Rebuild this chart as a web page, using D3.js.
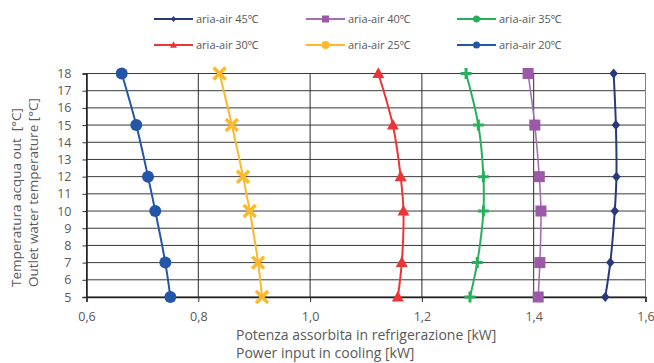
<!DOCTYPE html>
<html>
<head>
<meta charset="utf-8">
<script src="https://cdn.jsdelivr.net/npm/d3@7"></script>
<style>
  body { margin: 0; background: #fff; }
  text { font-family: "Open Sans", "Noto Sans", sans-serif; fill: #595959; }
</style>
</head>
<body>
<div class="chart"></div>
<script>
// outlet water temperature (y) and power input per air temperature (x)
const temps = [18, 15, 12, 10, 7, 5]
const seriesNames = ["aria-air 45℃", "aria-air 40℃", "aria-air 35℃", "aria-air 30℃", "aria-air 25℃", "aria-air 20℃"]
const air45 = [1.543, 1.547, 1.548, 1.545, 1.537, 1.528]
const air40 = [1.390, 1.402, 1.410, 1.413, 1.411, 1.408]
const air35 = [1.279, 1.301, 1.310, 1.310, 1.299, 1.286]
const air30 = [1.122, 1.148, 1.162, 1.167, 1.164, 1.157]
const air25 = [0.838, 0.860, 0.880, 0.892, 0.907, 0.914]
const air20 = [0.663, 0.689, 0.710, 0.723, 0.741, 0.750]
const xTicks = [0.6, 0.8, 1.0, 1.2, 1.4, 1.6]
const yTicks = [5, 6, 7, 8, 9, 10, 11, 12, 13, 14, 15, 16, 17, 18]

const styles = [
  {color: "#263a7c", line: "#263a7c", marker: "diamond"},
  {color: "#9b59a7", line: "#a66fb2", marker: "square"},
  {color: "#27b05c", line: "#27b05c", marker: "plus", legendMarker: "circle"},
  {color: "#ee3535", line: "#ee3535", marker: "triangle"},
  {color: "#fdb92c", line: "#fdb92c", marker: "x", legendMarker: "blob"},
  {color: "#2356a6", line: "#2356a6", marker: "circle"}
]
const allValues = [air45, air40, air35, air30, air25, air20]

let outerWidth = 654
let outerHeight = 363
let margin = {top: 73.5, bottom: 66, left: 86.5, right: 8.5}
let w = outerWidth - margin.left - margin.right
let h = outerHeight - margin.top - margin.bottom

const root = d3.select(".chart")
    .append("svg")
    .attr("width", outerWidth)
    .attr("height", outerHeight)

const svg = root.append("g")
    .attr("transform", `translate(${margin.left}, ${margin.top})`)

const xScale = d3.scaleLinear().domain([0.6, 1.6]).range([0, w])
const yScale = d3.scaleLinear().domain([5, 18]).range([h, 0])

const comma = d3.formatLocale({decimal: ",", thousands: ".", grouping: [3], currency: ["", "€"]}).format(".1f")

// grid
svg.append("g")
    .selectAll("line.h")
    .data(yTicks)
    .join("line")
    .attr("x1", 0).attr("x2", w)
    .attr("y1", d => yScale(d)).attr("y2", d => yScale(d))
    .attr("stroke", "#3a3a3a")
    .attr("stroke-width", 1)

svg.append("g")
    .selectAll("line.v")
    .data(xTicks)
    .join("line")
    .attr("x1", d => xScale(d)).attr("x2", d => xScale(d))
    .attr("y1", 0).attr("y2", h)
    .attr("stroke", d => d == 1.6 ? "#808080" : "#2a2a2a")
    .attr("stroke-width", 1)

// axes
const xAxis = d3.axisBottom(xScale)
    .tickValues(xTicks)
    .tickFormat(comma)
    .tickSize(5)
    .tickPadding(10)

const yAxis = d3.axisLeft(yScale)
    .tickValues(yTicks)
    .tickFormat(d3.format("d"))
    .tickSize(4)
    .tickPadding(11)

const gx = svg.append("g")
    .attr("transform", `translate(0, ${h})`)
    .call(xAxis)
gx.select(".domain").attr("stroke", "#222").attr("stroke-width", 1.5)

const gy = svg.append("g")
    .call(yAxis)
gy.select(".domain").attr("stroke", "#222").attr("stroke-width", 1.5)

svg.selectAll(".tick line").attr("stroke", "#333")
svg.selectAll(".tick text")
    .style("font-family", "'Open Sans', sans-serif")
    .style("font-size", "12.5px")
    .attr("fill", "#595959")

// markers
function markerPath(type, s) {
  const r = s / 2
  if (type == "plus") return `M${-r},0H${r}M0,${-r}V${r}`
  if (type == "x") return `M${-r},${-r}L${r},${r}M${-r},${r}L${r},${-r}`
  if (type == "diamond") return `M0,${-r}L${r * 0.85},0L0,${r}L${-r * 0.85},0Z`
  if (type == "square") return `M${-r},${-r}H${r}V${r}H${-r}Z`
  if (type == "triangle") return `M0,${-r * 1.05}L${r},${r * 0.75}L${-r},${r * 0.75}Z`
  if (type == "blob") return d3.symbol(d3.symbolCircle, s * s * 0.8)()
  return d3.symbol(d3.symbolCircle, Math.PI * r * r)()
}

function drawMarker(g, type, size, color) {
  const stroked = type == "plus" || type == "x"
  g.append("path")
    .attr("d", markerPath(type, size))
    .attr("fill", stroked ? "none" : color)
    .attr("stroke", stroked ? color : "none")
    .attr("stroke-width", type == "x" ? 3.5 : 3)
}

const markerSize = {diamond: 10, square: 11, plus: 11, triangle: 12, x: 12, circle: 12}

const line = d3.line()
    .x(d => xScale(d[0]))
    .y(d => yScale(d[1]))
    .curve(d3.curveCatmullRom.alpha(0.5))

allValues.forEach((vals, i) => {
  const st = styles[i]
  const pts = vals.map((v, j) => [v, temps[j]])
  svg.append("path")
      .datum(pts)
      .attr("d", line)
      .attr("fill", "none")
      .attr("stroke", st.line)
      .attr("stroke-width", i == 1 ? 1.6 : 2)
  pts.forEach(p => {
    const g = svg.append("g")
        .attr("transform", `translate(${xScale(p[0])}, ${yScale(p[1])})`)
    drawMarker(g, st.marker, markerSize[st.marker], st.color)
  })
})

// legend
const legendX = [154, 306, 457]
const legendY = [19, 45]
const legendMarkerSize = {diamond: 6, square: 7, circle: 7, triangle: 7, blob: 8}
seriesNames.forEach((name, i) => {
  const st = styles[i]
  const g = root.append("g")
      .attr("transform", `translate(${legendX[i % 3]}, ${legendY[Math.floor(i / 3)]})`)
  g.append("line")
      .attr("x1", 0).attr("x2", 39)
      .attr("stroke", st.line)
      .attr("stroke-width", 2)
  const mg = g.append("g").attr("transform", "translate(19.5, 0)")
  const mt = st.legendMarker || st.marker
  drawMarker(mg, mt, legendMarkerSize[mt], st.color)
  g.append("text")
      .attr("x", 42)
      .attr("y", 4)
      .style("font-size", "11px")
      .text(name)
})

// axis titles
const xt = root.append("text")
    .attr("x", 236)
    .attr("y", 340)
    .style("font-size", "14px")
xt.append("tspan").attr("x", 236).text("Potenza assorbita in refrigerazione [kW]")
xt.append("tspan").attr("x", 236).attr("y", 358).text("Power input in cooling [kW]")

const yt = root.append("text")
    .attr("transform", "translate(21, 287) rotate(-90)")
    .style("font-size", "13.5px")
    .style("white-space", "pre")
yt.append("tspan").attr("x", 0).attr("y", 0).text("Temperatura acqua out  [°C]")
yt.append("tspan").attr("x", 0).attr("y", 16.5).text("Outlet water temperature [°C]")
</script>
</body>
</html>
